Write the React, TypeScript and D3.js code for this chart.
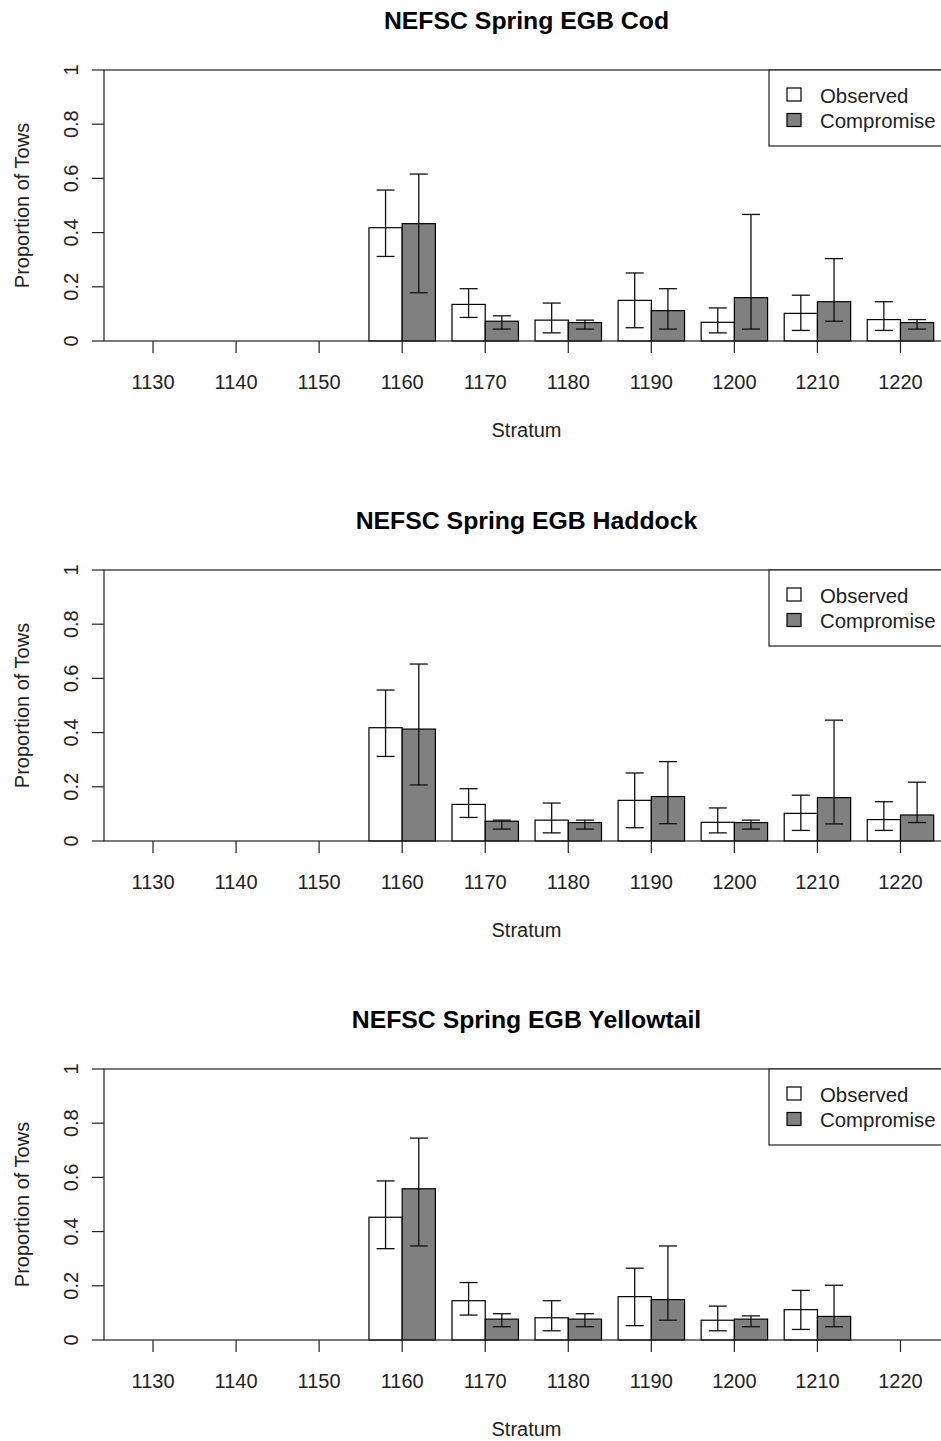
import React from "react";
import * as d3 from "d3";

const categories = ["1130", "1140", "1150", "1160", "1170", "1180", "1190", "1200", "1210", "1220"];
const seriesNames = ["Observed", "Compromise"];
const yTicks = [0, 0.2, 0.4, 0.6, 0.8, 1];

// Cod
const codObs = [null, null, null, 0.418, 0.135, 0.077, 0.15, 0.069, 0.102, 0.079];
const codObsLo = [null, null, null, 0.312, 0.087, 0.03, 0.049, 0.03, 0.039, 0.039];
const codObsHi = [null, null, null, 0.557, 0.193, 0.14, 0.251, 0.122, 0.169, 0.145];
const codComp = [null, null, null, 0.433, 0.073, 0.068, 0.112, 0.16, 0.145, 0.068];
const codCompLo = [null, null, null, 0.178, 0.044, 0.044, 0.044, 0.044, 0.073, 0.044];
const codCompHi = [null, null, null, 0.616, 0.093, 0.077, 0.193, 0.467, 0.304, 0.079];

// Haddock
const hadObs = [null, null, null, 0.418, 0.135, 0.077, 0.15, 0.069, 0.102, 0.079];
const hadObsLo = [null, null, null, 0.312, 0.087, 0.03, 0.049, 0.03, 0.039, 0.039];
const hadObsHi = [null, null, null, 0.557, 0.193, 0.14, 0.251, 0.122, 0.169, 0.145];
const hadComp = [null, null, null, 0.413, 0.073, 0.068, 0.164, 0.068, 0.16, 0.096];
const hadCompLo = [null, null, null, 0.207, 0.044, 0.044, 0.064, 0.044, 0.063, 0.068];
const hadCompHi = [null, null, null, 0.653, 0.077, 0.077, 0.293, 0.077, 0.446, 0.217];

// Yellowtail
const ytObs = [null, null, null, 0.453, 0.145, 0.082, 0.16, 0.073, 0.112, null];
const ytObsLo = [null, null, null, 0.337, 0.092, 0.034, 0.053, 0.034, 0.039, null];
const ytObsHi = [null, null, null, 0.587, 0.212, 0.145, 0.265, 0.125, 0.183, null];
const ytComp = [null, null, null, 0.558, 0.077, 0.077, 0.149, 0.077, 0.087, null];
const ytCompLo = [null, null, null, 0.347, 0.049, 0.049, 0.073, 0.049, 0.049, null];
const ytCompHi = [null, null, null, 0.745, 0.097, 0.097, 0.347, 0.089, 0.202, null];

const panels = [
  { title: "NEFSC Spring EGB Cod", vals: [codObs, codComp], lo: [codObsLo, codCompLo], hi: [codObsHi, codCompHi] },
  { title: "NEFSC Spring EGB Haddock", vals: [hadObs, hadComp], lo: [hadObsLo, hadCompLo], hi: [hadObsHi, hadCompHi] },
  { title: "NEFSC Spring EGB Yellowtail", vals: [ytObs, ytComp], lo: [ytObsLo, ytCompLo], hi: [ytObsHi, ytCompHi] },
];

const fills = ["#ffffff", "#808080"];
const FONT = "'Liberation Sans', Arial, Helvetica, sans-serif";
const W = 941;
const H = 1441;
const offsets = [0, 500, 999];

function Panel({ p, dy }: { p: any; dy: number }) {
  const left = 104;
  const right = 949;
  const top = 70;
  const bottom = 341;
  const cx = (left + right) / 2;
  const x = d3.scaleBand<string>().domain(categories).range([111.5, 942]).paddingInner(0.2).paddingOuter(0.1);
  const xs = d3.scaleBand<string>().domain(seriesNames).range([0, x.bandwidth()]).padding(0);
  const y = d3.scaleLinear().domain([0, 1]).range([bottom, top]);
  const cap = 9;
  return (
    <g transform={`translate(0,${dy})`}>
      <text x={cx} y={29} textAnchor="middle" fontFamily={FONT} fontWeight="bold" fontSize={24.8} fill="#000">
        {p.title}
      </text>
      {/* bars */}
      {seriesNames.map((s, si) =>
        categories.map((c, ci) => {
          const v = p.vals[si][ci];
          if (v == null) return null;
          const bx = (x(c) as number) + (xs(s) as number);
          return (
            <rect
              key={s + c}
              x={bx}
              y={y(v)}
              width={xs.bandwidth()}
              height={y(0) - y(v)}
              fill={fills[si]}
              stroke="#000"
              strokeWidth={1.2}
            />
          );
        })
      )}
      {/* error bars */}
      {seriesNames.map((s, si) =>
        categories.map((c, ci) => {
          const v = p.vals[si][ci];
          if (v == null) return null;
          const mx = (x(c) as number) + (xs(s) as number) + xs.bandwidth() / 2;
          const lo = y(p.lo[si][ci]);
          const hi = y(p.hi[si][ci]);
          return (
            <g key={"e" + s + c} stroke="#111" strokeWidth={1.3}>
              <line x1={mx} x2={mx} y1={lo} y2={hi} />
              <line x1={mx - cap} x2={mx + cap} y1={lo} y2={lo} />
              <line x1={mx - cap} x2={mx + cap} y1={hi} y2={hi} />
            </g>
          );
        })
      )}
      {/* box */}
      <rect x={left} y={top} width={right - left} height={bottom - top} fill="none" stroke="#222" strokeWidth={1.2} />
      {/* y axis */}
      {yTicks.map((t) => (
        <g key={"y" + t}>
          <line x1={left - 12} x2={left} y1={y(t)} y2={y(t)} stroke="#222" strokeWidth={1.2} />
          <text
            transform={`translate(78,${y(t)}) rotate(-90)`}
            textAnchor="middle"
            fontFamily={FONT}
            fontSize={20}
            fill="#222"
          >
            {String(t)}
          </text>
        </g>
      ))}
      <text
        transform={`translate(28.5,${(top + bottom) / 2}) rotate(-90)`}
        textAnchor="middle"
        fontFamily={FONT}
        fontSize={20}
        fill="#222"
      >
        Proportion of Tows
      </text>
      {/* x axis ticks */}
      {categories.map((c) => {
        const cxx = (x(c) as number) + x.bandwidth() / 2;
        return (
          <g key={"x" + c}>
            <line x1={cxx} x2={cxx} y1={bottom} y2={bottom + 12} stroke="#222" strokeWidth={1.2} />
            <text x={cxx} y={389} textAnchor="middle" fontFamily={FONT} fontSize={20} fill="#222">
              {c}
            </text>
          </g>
        );
      })}
      <text x={cx} y={437} textAnchor="middle" fontFamily={FONT} fontSize={20} fill="#222">
        Stratum
      </text>
      {/* legend */}
      <rect x={769} y={top} width={200} height={76} fill="#fff" stroke="#222" strokeWidth={1.2} />
      {seriesNames.map((s, si) => (
        <g key={"l" + s}>
          <rect x={787} y={88 + si * 25.5} width={14} height={13} fill={fills[si]} stroke="#000" strokeWidth={1.2} />
          <text x={820} y={102.5 + si * 25.5} fontFamily={FONT} fontSize={20.4} fill="#222">
            {s}
          </text>
        </g>
      ))}
    </g>
  );
}

export default function App() {
  return (
    <svg
      width={W}
      height={H}
      viewBox={`0 0 ${W} ${H}`}
      style={{ position: "absolute", left: 0, top: 0, background: "#fff" }}
    >
      <rect x={0} y={0} width={W} height={H} fill="#fff" />
      {panels.map((p, i) => (
        <Panel key={p.title} p={p} dy={offsets[i]} />
      ))}
    </svg>
  );
}
